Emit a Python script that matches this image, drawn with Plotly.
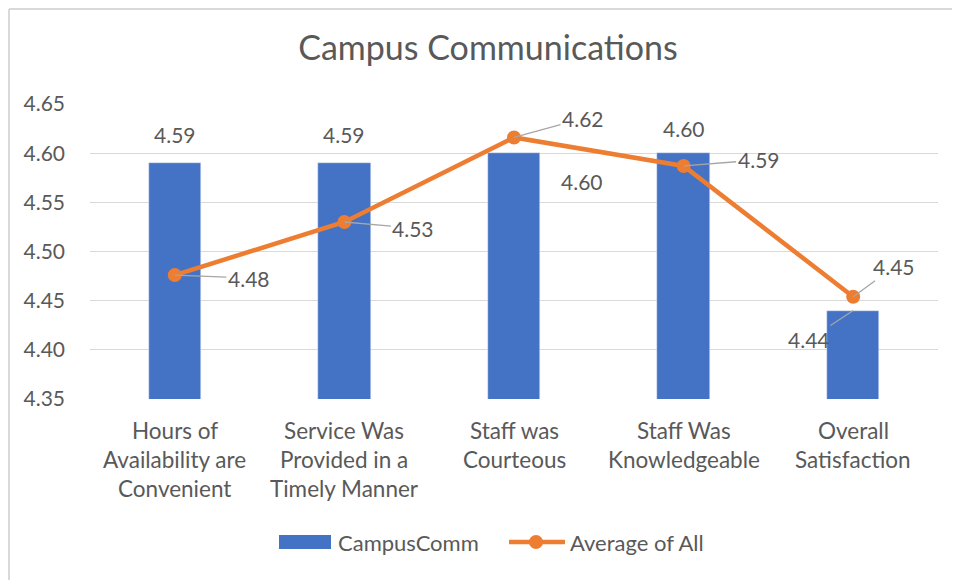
import plotly.graph_objects as go

categories = [
    "Hours of<br>Availability are<br>Convenient",
    "Service Was<br>Provided in a<br>Timely Manner",
    "Staff was<br>Courteous",
    "Staff Was<br>Knowledgeable",
    "Overall<br>Satisfaction",
]
campus_comm = [4.59, 4.59, 4.60, 4.60, 4.44]
average_all = [4.476, 4.53, 4.616, 4.587, 4.454]
y_ticks = [4.35, 4.40, 4.45, 4.50, 4.55, 4.60, 4.65]

BLUE = "#4472C4"
ORANGE = "#ED7D31"
TXT = "#595959"
LEADER = "#A6A6A6"
GRID = "#D9D9D9"
FONT = "Lato, Open Sans, sans-serif"

W, H = 960, 580
L, T, R, B = 82, 96, 30, 189
PW, PH = W - L - R, H - T - B


def px(x):
    # figure pixel -> paper x
    return (x - L) / PW


def py(y):
    # figure pixel -> paper y
    return (H - B - y) / PH


xs = list(range(len(categories)))

fig = go.Figure()
fig.add_trace(go.Bar(
    x=xs, y=campus_comm, name="CampusComm",
    marker_color=BLUE, width=0.31, showlegend=False,
))
fig.add_trace(go.Scatter(
    x=xs, y=average_all, name="Average of All",
    mode="lines+markers", showlegend=False,
    line=dict(color=ORANGE, width=4.5),
    marker=dict(color=ORANGE, size=14),
))

# line labels with leader lines (offsets in px)
line_offsets = [(74, 3), (69, 6), (69, -19), (75, -6), (41, -30)]
for i, (ax, ay) in enumerate(line_offsets):
    fig.add_annotation(
        x=xs[i], y=average_all[i], text=f"{average_all[i]:.2f}",
        showarrow=True, arrowhead=0, arrowwidth=1.3, arrowcolor=LEADER,
        ax=ax, ay=ay, standoff=0,
        font=dict(family=FONT, size=21, color=TXT),
    )

# bar labels
bar_shift = [(0, 29), (0, 29), (68, -28), (0, 25)]
for i, (dx, dy) in enumerate(bar_shift):
    fig.add_annotation(
        x=xs[i], y=campus_comm[i], text=f"{campus_comm[i]:.2f}",
        showarrow=False, xshift=dx, yshift=dy,
        font=dict(family=FONT, size=21, color=TXT),
    )
fig.add_annotation(
    x=xs[4], y=campus_comm[4], text=f"{campus_comm[4]:.2f}",
    showarrow=True, arrowhead=0, arrowwidth=1.3, arrowcolor=LEADER,
    ax=-44, ay=29, standoff=0,
    font=dict(family=FONT, size=21, color=TXT),
)

# category labels, one line at a time for Excel-like line spacing
for i, cat in enumerate(categories):
    for j, part in enumerate(cat.split("<br>")):
        fig.add_annotation(
            x=xs[i], xref="x", y=0, yref="paper", text=part,
            showarrow=False, yanchor="middle", yshift=-31 - 29 * j,
            font=dict(family=FONT, size=22.5, color=TXT),
        )

# chart border (left and top edges visible)
fig.add_shape(type="line", xref="paper", yref="paper",
              x0=px(1), x1=px(1), y0=py(H + 5), y1=py(1),
              line=dict(color=GRID, width=2))
fig.add_shape(type="line", xref="paper", yref="paper",
              x0=px(1), x1=px(W + 5), y0=py(1), y1=py(1),
              line=dict(color=GRID, width=2))

# legend drawn by hand
fig.add_shape(type="rect", xref="paper", yref="paper",
              x0=px(271), x1=px(323), y0=py(527), y1=py(541),
              fillcolor=BLUE, line_width=0)
fig.add_annotation(x=px(328), y=py(534), xref="paper", yref="paper",
                   text="CampusComm", showarrow=False,
                   xanchor="left", yanchor="middle",
                   font=dict(family=FONT, size=22, color=TXT))
fig.add_shape(type="line", xref="paper", yref="paper",
              x0=px(501), x1=px(557), y0=py(534), y1=py(534),
              line=dict(color=ORANGE, width=4.5))
fig.add_shape(type="circle", xref="paper", yref="paper",
              x0=px(521), x1=px(535), y0=py(527), y1=py(541),
              fillcolor=ORANGE, line_width=0)
fig.add_annotation(x=px(560), y=py(534), xref="paper", yref="paper",
                   text="Average of All", showarrow=False,
                   xanchor="left", yanchor="middle",
                   font=dict(family=FONT, size=22, color=TXT))

fig.update_layout(
    width=W, height=H,
    margin=dict(l=L, r=R, t=T, b=B),
    paper_bgcolor="white", plot_bgcolor="white",
    font=dict(family=FONT, size=21, color=TXT),
    title=dict(text="Campus Communications", x=480 / W, xref="container",
               xanchor="center", y=1 - 40 / H, yanchor="middle",
               font=dict(family=FONT, size=34, color=TXT)),
    showlegend=False,
    bargap=0,
)
fig.update_xaxes(
    range=[-0.5, len(categories) - 0.5],
    tickvals=xs, ticktext=["" for _ in xs],
    showgrid=False, showline=False, ticks="",
)
fig.update_yaxes(
    range=[4.35, 4.65], tickvals=y_ticks,
    tickformat=".2f",
    showgrid=True, gridcolor=GRID, gridwidth=1.3,
    zeroline=False, showline=False, ticks="",
    ticklabelstandoff=24,
    tickfont=dict(family=FONT, size=21, color=TXT),
)

fig.write_html("out.html")
